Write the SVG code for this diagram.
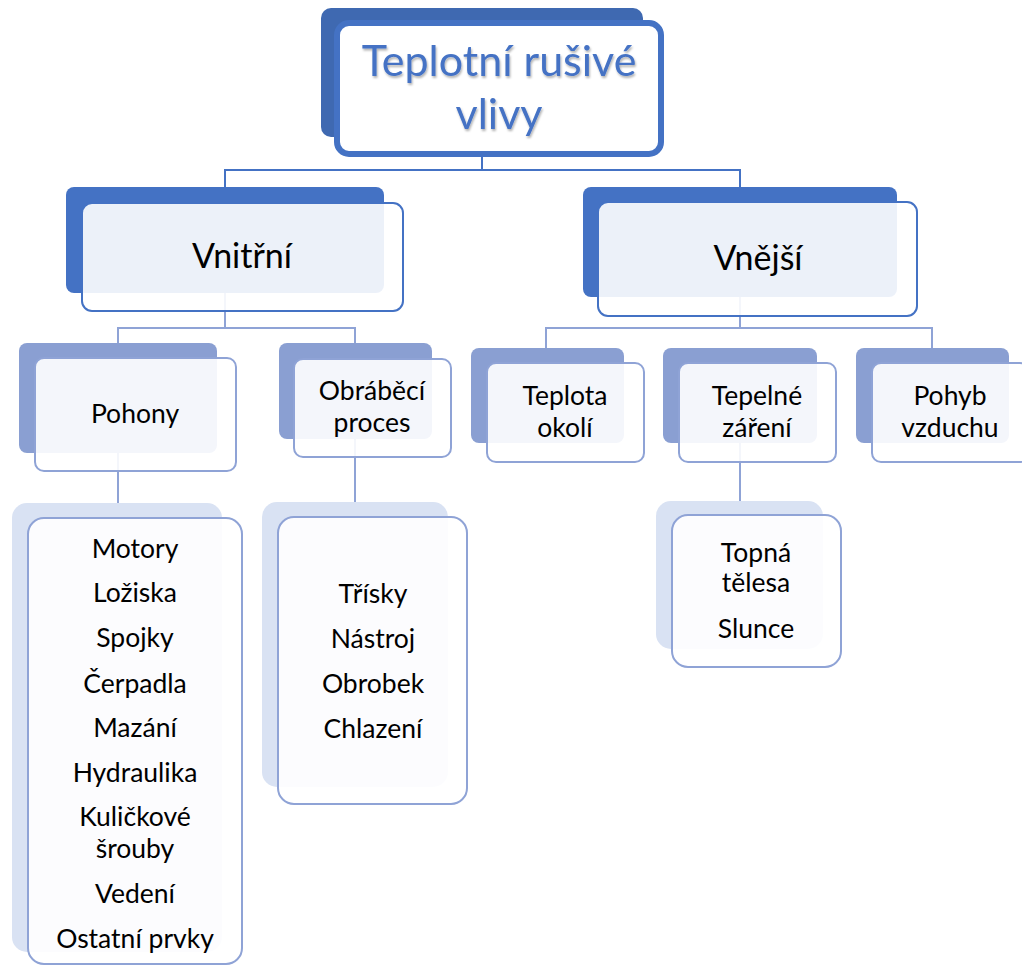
<svg xmlns="http://www.w3.org/2000/svg" width="1022" height="968" viewBox="0 0 1022 968">
<defs>
<style>
text{font-family:Lato,"Open Sans","DejaVu Sans",sans-serif;text-anchor:middle;fill:#000}
.c1{stroke:#4472C4;stroke-width:2;fill:none}
.c2{stroke:#8FA3D6;stroke-width:2;fill:none}
.b0{fill:#3F69B1}
.f0{fill:#fff;stroke:#4472C4;stroke-width:6}
.b1{fill:#4472C4}
.f1{fill:#fff;fill-opacity:0.9;stroke:#4472C4;stroke-width:2}
.b2{fill:#8A9FD2}
.f2{fill:#fff;fill-opacity:0.9;stroke:#8FA3D6;stroke-width:2}
.b3{fill:#D9E2F3}
.t0{font-size:43px;fill:#4472C4}
.t1{font-size:34px}
.t2{font-size:26.5px}
</style>
<filter id="sh" x="-10%" y="-10%" width="120%" height="130%">
<feDropShadow dx="1" dy="2" stdDeviation="1" flood-color="#000" flood-opacity="0.3"/>
</filter>
</defs>
<rect width="1022" height="968" fill="#fff"/>
<g id="connectors">
<path class="c1" d="M482,137V170 M225,187V170H740V187"/>
<path class="c2" d="M225,293V328 M118,343V328H355V343 M740,297V328 M546,348V328H932V348"/>
<path class="c2" d="M118,453V503 M355,439V502 M740,443V501"/>
</g>
<g id="n-root">
<rect class="b0" x="321" y="8" width="322" height="129" rx="10"/>
<rect class="f0" x="337" y="23" width="324" height="131" rx="12"/>
<g filter="url(#sh)">
<text class="t0" x="499" y="76">Teplotní rušivé</text>
<text class="t0" x="499" y="129">vlivy</text>
</g>
</g>
<g id="n-vnitrni">
<rect class="b1" x="66" y="187" width="318" height="106" rx="8"/>
<rect class="f1" x="82" y="203" width="321" height="108" rx="10"/>
<text class="t1" x="242" y="268">Vnitřní</text>
</g>
<g id="n-vnejsi">
<rect class="b1" x="583" y="187" width="314" height="110" rx="8"/>
<rect class="f1" x="598" y="202" width="319" height="114" rx="10"/>
<text class="t1" x="758" y="270">Vnější</text>
</g>
<g id="n-pohony">
<rect class="b2" x="19" y="343" width="198" height="110" rx="8"/>
<rect class="f2" x="35" y="358" width="201" height="113" rx="9"/>
<text class="t2" x="135" y="423">Pohony</text>
</g>
<g id="n-obrabeci">
<rect class="b2" x="279" y="343" width="153" height="96" rx="8"/>
<rect class="f2" x="294" y="359" width="157" height="98" rx="9"/>
<text class="t2" x="372" y="400">Obráběcí</text>
<text class="t2" x="372" y="432">proces</text>
</g>
<g id="n-teplota">
<rect class="b2" x="471" y="348" width="153" height="95" rx="8"/>
<rect class="f2" x="487" y="363" width="157" height="99" rx="9"/>
<text class="t2" x="565" y="405">Teplota</text>
<text class="t2" x="565" y="437">okolí</text>
</g>
<g id="n-tepelne">
<rect class="b2" x="663" y="348" width="154" height="95" rx="8"/>
<rect class="f2" x="679" y="363" width="157" height="99" rx="9"/>
<text class="t2" x="757" y="405">Tepelné</text>
<text class="t2" x="757" y="437">záření</text>
</g>
<g id="n-pohyb">
<rect class="b2" x="856" y="348" width="153" height="95" rx="8"/>
<rect class="f2" x="872" y="363" width="157" height="99" rx="9"/>
<text class="t2" x="950" y="405">Pohyb</text>
<text class="t2" x="950" y="437">vzduchu</text>
</g>
<g id="n-pohony-list">
<rect class="b3" x="12" y="503" width="210" height="449" rx="15"/>
<rect class="f2" x="28" y="518" width="214" height="446" rx="16"/>
<text class="t2" x="135" y="558">Motory</text>
<text class="t2" x="135" y="602">Ložiska</text>
<text class="t2" x="135" y="647">Spojky</text>
<text class="t2" x="135" y="693">Čerpadla</text>
<text class="t2" x="135" y="737">Mazání</text>
<text class="t2" x="135" y="782">Hydraulika</text>
<text class="t2" x="135" y="826">Kuličkové</text>
<text class="t2" x="135" y="858">šrouby</text>
<text class="t2" x="135" y="903">Vedení</text>
<text class="t2" x="135" y="948">Ostatní prvky</text>
</g>
<g id="n-obrabeci-list">
<rect class="b3" x="262" y="502" width="186" height="285" rx="15"/>
<rect class="f2" x="278" y="517" width="189" height="287" rx="16"/>
<text class="t2" x="373" y="603">Třísky</text>
<text class="t2" x="373" y="648">Nástroj</text>
<text class="t2" x="373" y="693">Obrobek</text>
<text class="t2" x="373" y="738">Chlazení</text>
</g>
<g id="n-zareni-list">
<rect class="b3" x="656" y="501" width="167" height="148" rx="15"/>
<rect class="f2" x="672" y="515" width="169" height="152" rx="16"/>
<text class="t2" x="756" y="562">Topná</text>
<text class="t2" x="756" y="592">tělesa</text>
<text class="t2" x="756" y="638">Slunce</text>
</g>
</svg>
